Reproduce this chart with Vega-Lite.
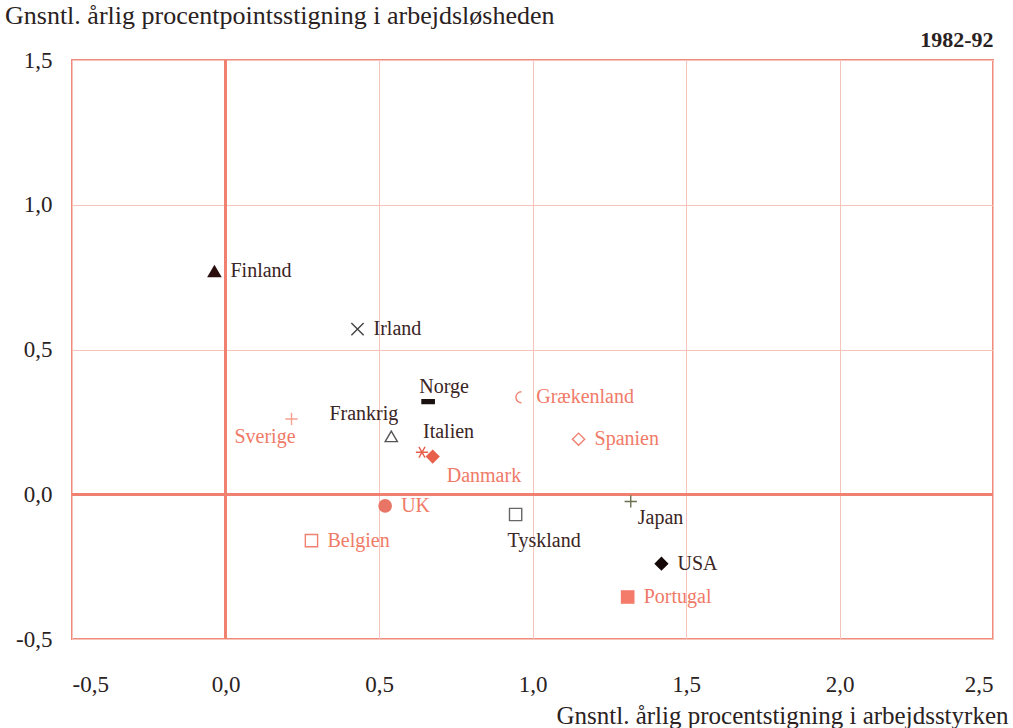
{
  "$schema": "https://vega.github.io/schema/vega-lite/v6.json",
  "width": 921,
  "height": 579,
  "autosize": "none",
  "padding": {"left": 72, "top": 60, "right": 20, "bottom": 89},
  "background": "white",
  "config": {
    "locale": {"number": {"decimal": ",", "thousands": ".", "grouping": [3], "currency": ["", " kr"], "minus": "-"}},
    "font": "Liberation Serif",
    "view": {"stroke": "#f08a7c", "strokeWidth": 2},
    "axis": {"grid": true, "gridColor": "#f6c4bb", "gridWidth": 1, "domain": false, "ticks": false,
      "labelFont": "Liberation Serif", "labelFontSize": 23, "labelColor": "#2a2222",
      "titleFont": "Liberation Serif", "titleColor": "#2a2222", "titleFontWeight": "normal"}
  },
  "title": {"text": "Gnsntl. årlig procentpointsstigning i arbejdsløsheden", "anchor": "start", "frame": "group",
    "dx": -67, "dy": 5, "fontSize": 26, "font": "Liberation Serif", "fontWeight": "normal", "color": "#2a2222", "offset": 4},
  "data": {"values": [
    {"country": "Finland", "x": -0.036, "y": 0.77},
    {"country": "Irland", "x": 0.43, "y": 0.57},
    {"country": "Norge", "x": 0.66, "y": 0.32},
    {"country": "Grækenland", "x": 0.96, "y": 0.335},
    {"country": "Sverige", "x": 0.215, "y": 0.26},
    {"country": "Frankrig", "x": 0.54, "y": 0.2},
    {"country": "Italien", "x": 0.64, "y": 0.145},
    {"country": "Danmark", "x": 0.675, "y": 0.13},
    {"country": "Spanien", "x": 1.15, "y": 0.19},
    {"country": "UK", "x": 0.52, "y": -0.04},
    {"country": "Belgien", "x": 0.28, "y": -0.16},
    {"country": "Tyskland", "x": 0.945, "y": -0.07},
    {"country": "Japan", "x": 1.32, "y": -0.025},
    {"country": "USA", "x": 1.42, "y": -0.24},
    {"country": "Portugal", "x": 1.31, "y": -0.355}
  ]},
  "layer": [
    {"mark": {"type": "rule", "color": "#f08070", "strokeWidth": 2},
     "encoding": {"y": {"datum": 0, "type": "quantitative", "scale": {"domain": [-0.5, 1.5], "nice": false, "zero": false}}}},
    {"mark": {"type": "rule", "color": "#f08070", "strokeWidth": 2},
     "encoding": {"x": {"datum": 0, "type": "quantitative", "scale": {"domain": [-0.5, 2.5], "nice": false, "zero": false}}}},
    {"mark": {"type": "point", "size": 150, "strokeWidth": 1.4, "opacity": 1},
     "encoding": {
       "x": {"field": "x", "type": "quantitative", "scale": {"domain": [-0.5, 2.5], "nice": false, "zero": false},
         "axis": {"values": [-0.5, 0, 0.5, 1, 1.5, 2, 2.5], "format": ".1f", "labelPadding": 34,
           "title": "Gnsntl. årlig procentstigning i arbejdsstyrken", "titleFontSize": 25, "titleAlign": "right", "titleAnchor": "end",
           "titleX": 936, "titleY": 84, "titleBaseline": "alphabetic"}},
       "y": {"field": "y", "type": "quantitative", "scale": {"domain": [-0.5, 1.5], "nice": false, "zero": false},
         "axis": {"values": [-0.5, 0, 0.5, 1, 1.5], "format": ".1f", "labelPadding": 20,
           "title": "1982-92", "titleAngle": 0, "titleAlign": "right", "titleX": 921, "titleY": -14, "titleBaseline": "alphabetic",
           "titleFontWeight": "bold", "titleFontSize": 22}},
       "shape": {"field": "country", "type": "nominal", "legend": null, "scale": {
         "domain": ["Finland", "Irland", "Norge", "Grækenland", "Sverige", "Frankrig", "Italien", "Danmark", "Spanien", "UK", "Belgien", "Tyskland", "Japan", "USA", "Portugal"],
         "range": ["triangle-up", "M-1,-1L1,1M1,-1L-1,1", "M-1,-0.3L1,-0.3L1,0.3L-1,0.3Z", "M0.2,-0.9A0.9,0.9,0,0,0,0.2,0.9", "M-1,0L1,0M0,-1L0,1", "triangle-up", "M-1,0L1,0M-0.5,-0.87L0.5,0.87M0.5,-0.87L-0.5,0.87", "diamond", "diamond", "circle", "square", "square", "M-1,0L1,0M0,-1L0,1", "diamond", "square"]}},
       "fill": {"field": "country", "type": "nominal", "legend": null, "scale": {
         "domain": ["Finland", "Irland", "Norge", "Grækenland", "Sverige", "Frankrig", "Italien", "Danmark", "Spanien", "UK", "Belgien", "Tyskland", "Japan", "USA", "Portugal"],
         "range": ["#2b0d0d", "transparent", "#1a1010", "transparent", "transparent", "transparent", "transparent", "#e8604c", "transparent", "#e87565", "transparent", "transparent", "transparent", "#150808", "#f47a6a"]}},
       "stroke": {"field": "country", "type": "nominal", "legend": null, "scale": {
         "domain": ["Finland", "Irland", "Norge", "Grækenland", "Sverige", "Frankrig", "Italien", "Danmark", "Spanien", "UK", "Belgien", "Tyskland", "Japan", "USA", "Portugal"],
         "range": ["#2b0d0d", "#444444", "#1a1010", "#f08070", "#f6a090", "#555555", "#e8604c", "#e8604c", "#f08070", "#e87565", "#f08070", "#666666", "#6a7050", "#150808", "#f47a6a"]}}
     }},
    {"transform": [{"filter": {"field": "country", "oneOf": ["Finland", "Irland", "Grækenland", "Spanien", "UK", "Belgien", "USA", "Portugal"]}}],
     "mark": {"type": "text", "align": "left", "baseline": "middle", "dx": 16, "fontSize": 20, "font": "Liberation Serif"},
     "encoding": {"x": {"field": "x", "type": "quantitative"}, "y": {"field": "y", "type": "quantitative"}, "text": {"field": "country"},
       "color": {"field": "country", "type": "nominal", "legend": null, "scale": {
         "domain": ["Finland", "Irland", "Norge", "Grækenland", "Sverige", "Frankrig", "Italien", "Danmark", "Spanien", "UK", "Belgien", "Tyskland", "Japan", "USA", "Portugal"],
         "range": ["#3a2424", "#3a2424", "#3a2424", "#f07a68", "#f07a68", "#3a2424", "#3a2424", "#f07a68", "#f07a68", "#f07a68", "#f07a68", "#3a2424", "#3a2424", "#3a2424", "#f07a68"]}}}},
    {"transform": [{"filter": {"field": "country", "equal": "Norge"}}],
     "mark": {"type": "text", "align": "center", "baseline": "middle", "dx": 16, "dy": -15, "fontSize": 20, "font": "Liberation Serif"},
     "encoding": {"x": {"field": "x", "type": "quantitative"}, "y": {"field": "y", "type": "quantitative"}, "text": {"field": "country"}, "color": {"field": "country", "type": "nominal", "legend": null}}},
    {"transform": [{"filter": {"field": "country", "equal": "Sverige"}}],
     "mark": {"type": "text", "align": "right", "baseline": "middle", "dx": 4, "dy": 18, "fontSize": 20, "font": "Liberation Serif"},
     "encoding": {"x": {"field": "x", "type": "quantitative"}, "y": {"field": "y", "type": "quantitative"}, "text": {"field": "country"}, "color": {"field": "country", "type": "nominal", "legend": null}}},
    {"transform": [{"filter": {"field": "country", "equal": "Frankrig"}}],
     "mark": {"type": "text", "align": "right", "baseline": "middle", "dx": 7, "dy": -22, "fontSize": 20, "font": "Liberation Serif"},
     "encoding": {"x": {"field": "x", "type": "quantitative"}, "y": {"field": "y", "type": "quantitative"}, "text": {"field": "country"}, "color": {"field": "country", "type": "nominal", "legend": null}}},
    {"transform": [{"filter": {"field": "country", "equal": "Italien"}}],
     "mark": {"type": "text", "align": "left", "baseline": "middle", "dx": 1, "dy": -20, "fontSize": 20, "font": "Liberation Serif"},
     "encoding": {"x": {"field": "x", "type": "quantitative"}, "y": {"field": "y", "type": "quantitative"}, "text": {"field": "country"}, "color": {"field": "country", "type": "nominal", "legend": null}}},
    {"transform": [{"filter": {"field": "country", "equal": "Danmark"}}],
     "mark": {"type": "text", "align": "left", "baseline": "middle", "dx": 14, "dy": 19, "fontSize": 20, "font": "Liberation Serif"},
     "encoding": {"x": {"field": "x", "type": "quantitative"}, "y": {"field": "y", "type": "quantitative"}, "text": {"field": "country"}, "color": {"field": "country", "type": "nominal", "legend": null}}},
    {"transform": [{"filter": {"field": "country", "equal": "Tyskland"}}],
     "mark": {"type": "text", "align": "left", "baseline": "middle", "dx": -8, "dy": 26, "fontSize": 20, "font": "Liberation Serif"},
     "encoding": {"x": {"field": "x", "type": "quantitative"}, "y": {"field": "y", "type": "quantitative"}, "text": {"field": "country"}, "color": {"field": "country", "type": "nominal", "legend": null}}},
    {"transform": [{"filter": {"field": "country", "equal": "Japan"}}],
     "mark": {"type": "text", "align": "left", "baseline": "middle", "dx": 7, "dy": 17, "fontSize": 20, "font": "Liberation Serif"},
     "encoding": {"x": {"field": "x", "type": "quantitative"}, "y": {"field": "y", "type": "quantitative"}, "text": {"field": "country"}, "color": {"field": "country", "type": "nominal", "legend": null}}}
  ]
}
